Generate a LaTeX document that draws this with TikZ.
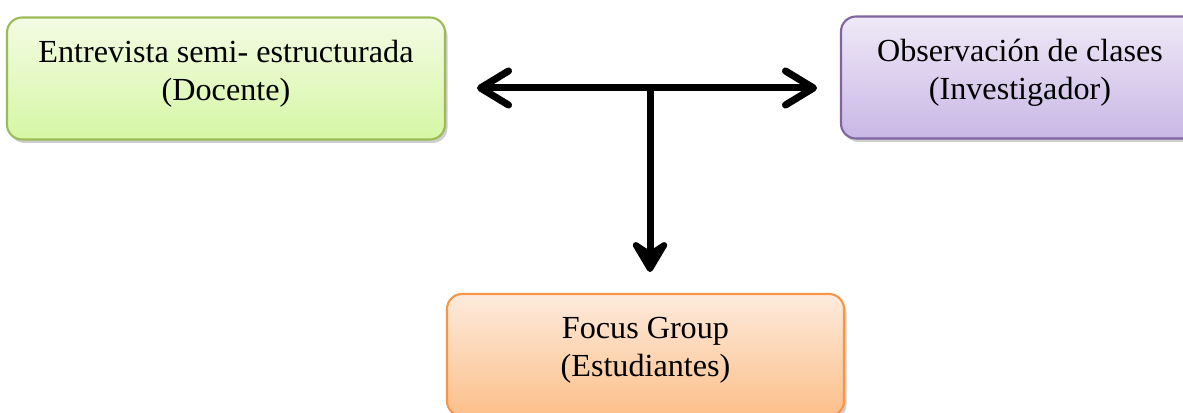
\documentclass[tikz,border=0pt]{standalone}
\usepackage{fontspec}
\setmainfont{Liberation Serif}
\usetikzlibrary{arrows.meta,shadows}
\definecolor{verde}{HTML}{9BBB59}
\definecolor{morado}{HTML}{8064A2}
\definecolor{naranja}{HTML}{F79646}
\definecolor{verdeA}{HTML}{F3FBE4}
\definecolor{verdeB}{HTML}{D6F7A4}
\definecolor{moradoA}{HTML}{EFE9F7}
\definecolor{moradoB}{HTML}{C9B7E5}
\definecolor{naranjaA}{HTML}{FDEBDC}
\definecolor{naranjaB}{HTML}{FCBF8A}
\begin{document}
\begin{tikzpicture}[
    caja/.style={draw,line width=1.2pt,rounded corners=0.3cm,minimum height=2.44cm,
                 align=center,font=\fontsize{18.3}{21.5}\selectfont,text depth=0.34cm,
                 drop shadow={shadow xshift=0.05cm,shadow yshift=-0.07cm,fill=black!38}},
    flecha/.style={line width=0.14cm,line cap=round},
    sombra/.style={flecha,black!32,shift={(0.05cm,-0.06cm)}},
    barba/.tip={Straight Barb[length=0.56cm,width=0.68cm,round]},
    punta/.tip={Stealth[length=0.78cm,width=0.92cm,inset=0.3cm,round]}]
    \clip (0,0) rectangle (23.66,8.26);
    % cajas
    \node[caja,draw=verde,top color=verdeA,bottom color=verdeB,minimum width=8.76cm]
        (docente) at (4.52,6.69) {Entrevista semi- estructurada\\(Docente)};
    \node[caja,draw=morado,top color=moradoA,bottom color=moradoB,minimum width=7.16cm]
        (investigador) at (20.4,6.71) {Observación de clases\\(Investigador)};
    \node[caja,draw=naranja,top color=naranjaA,bottom color=naranjaB,minimum width=7.94cm]
        (estudiantes) at (12.91,1.16) {Focus Group\\(Estudiantes)};
    % flechas
    \coordinate (izq) at (9.54,6.5);
    \coordinate (der) at (16.34,6.5);
    \coordinate (centro) at (13.0,6.5);
    \coordinate (abajo) at (13.0,2.82);
    \draw[sombra,barba-barba] (izq) -- (der);
    \draw[sombra,-punta] (centro) -- (abajo);
    \draw[flecha,barba-barba] (izq) -- (der);
    \draw[flecha,-punta] (centro) -- (abajo);
\end{tikzpicture}
\end{document}
